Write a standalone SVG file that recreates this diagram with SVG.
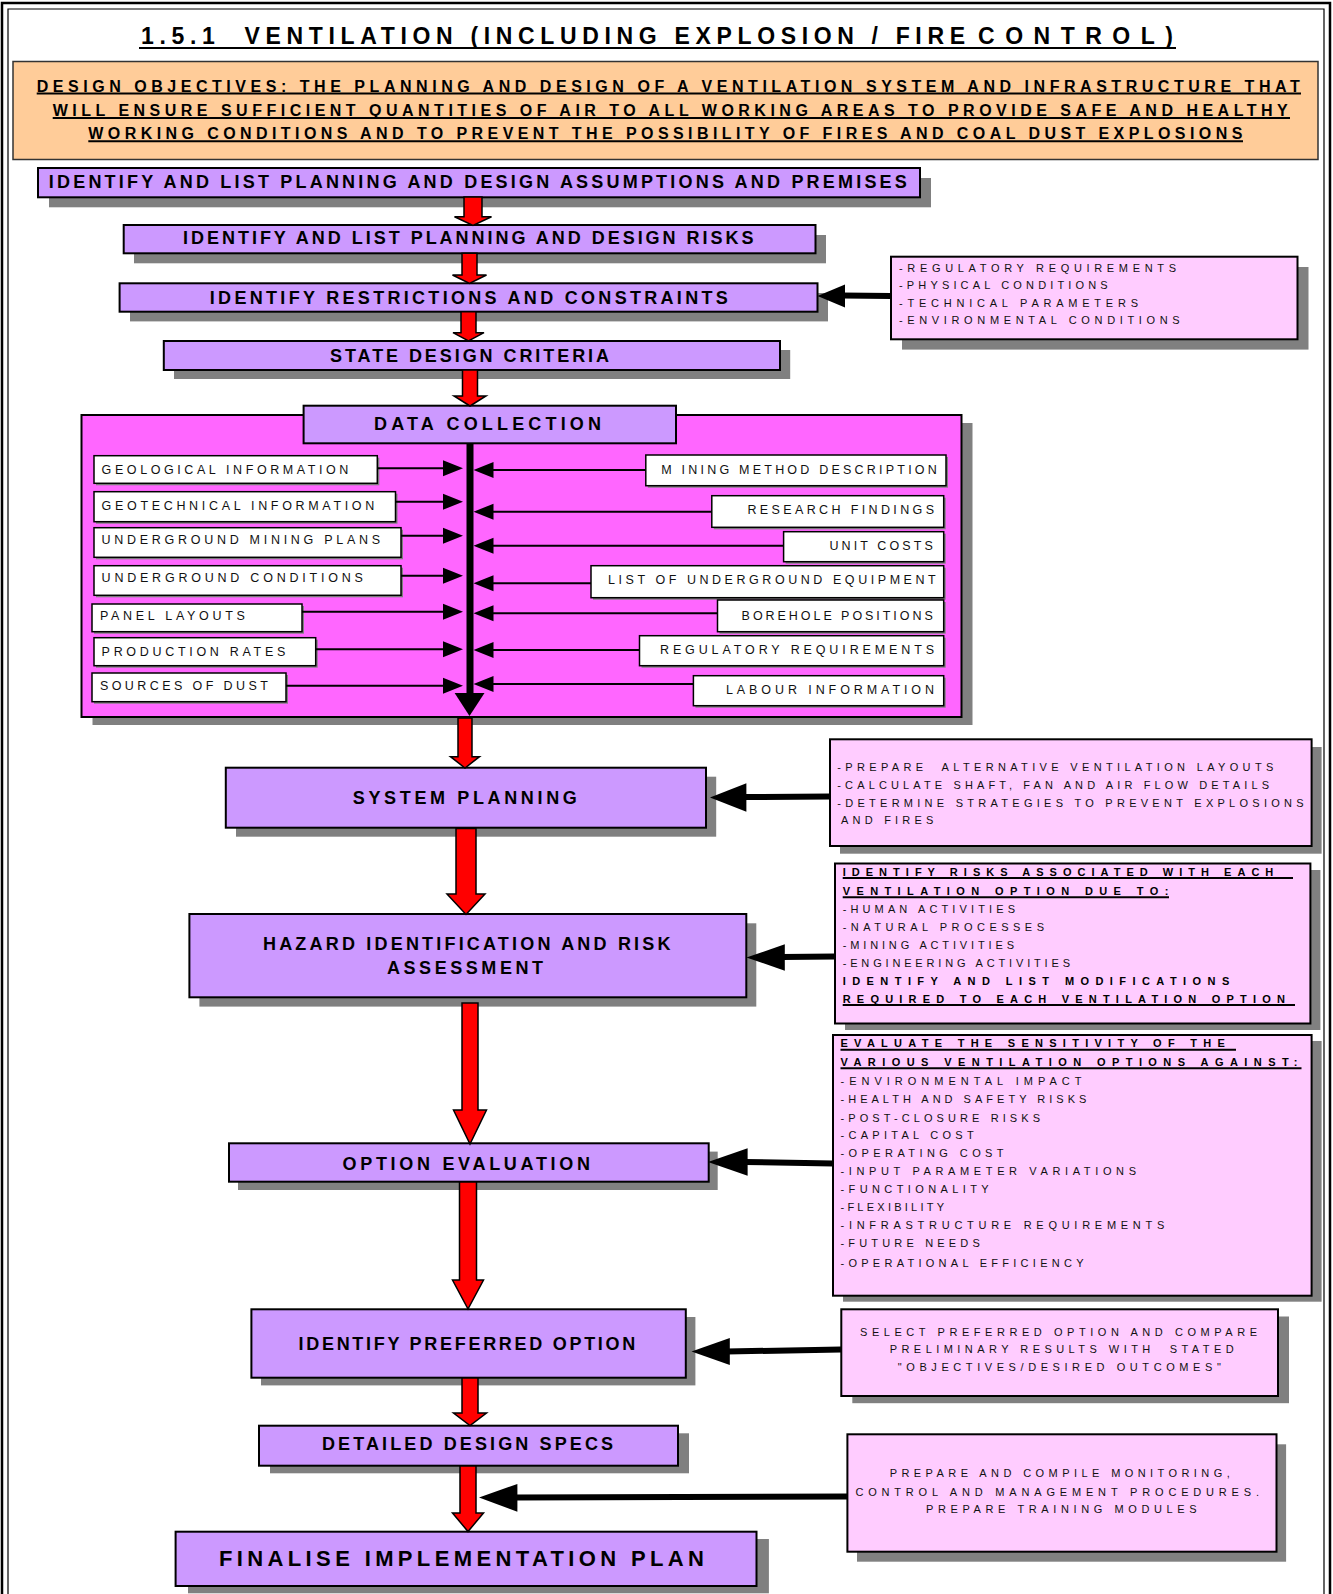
<svg xmlns="http://www.w3.org/2000/svg" width="1333" height="1594" viewBox="0 0 1333 1594">
<style>
text{font-family:"Liberation Sans",Arial,"Helvetica",sans-serif;}
.flow{fill:#CC99FF;stroke:#000;stroke-width:2}
.sh{fill:#808080}
.side{fill:#FFCCFF;stroke:#000;stroke-width:2}
.inp{fill:#fff;stroke:#000;stroke-width:1.5}
.ft{font-weight:bold;font-size:18px;fill:#000}
.st{font-size:11px;fill:#111}
.stb{font-size:11px;font-weight:bold;fill:#000}
.it{font-size:12.5px;fill:#111}
.ul{stroke:#000;stroke-width:2}
.red{fill:#FF0000;stroke:#000;stroke-width:1.5;stroke-linejoin:miter}
.bl{stroke:#000;stroke-width:6;fill:none}
.bt{stroke:#000;stroke-width:2;fill:none}
.ah{fill:#000}
</style>

<g id="frame" fill="none" stroke="#000">
  <path d="M2,1594 V3 H1330 V1594" stroke-width="2.5"/>
  <path d="M8,1594 V9 H1324 V1594" stroke-width="1.2"/>
</g>

<g id="title">
  <text x="141" y="44" font-size="23" font-weight="bold" textLength="824" lengthAdjust="spacing" xml:space="preserve">1.5.1  VENTILATION (INCLUDING EXPLOSION / FIRE</text>
  <text x="978" y="44" font-size="23" font-weight="bold" textLength="195" lengthAdjust="spacing">CONTROL)</text>
  <line class="ul" x1="139" y1="48" x2="1176" y2="48" stroke-width="2.5"/>
</g>

<g id="objectives">
  <rect x="13" y="61.5" width="1305" height="98" fill="#FFCC99" stroke="#333" stroke-width="1.5"/>
  <text x="36.7" y="91.5" font-size="16" font-weight="bold" textLength="1263" lengthAdjust="spacing">DESIGN OBJECTIVES: THE PLANNING AND DESIGN OF A VENTILATION SYSTEM AND INFRASTRUCTURE THAT</text>
  <line class="ul" x1="36.7" y1="93.5" x2="1301" y2="93.5"/>
  <text x="52.7" y="116" font-size="16" font-weight="bold" textLength="1235" lengthAdjust="spacing">WILL ENSURE SUFFICIENT QUANTITIES OF AIR TO ALL WORKING AREAS TO PROVIDE SAFE AND HEALTHY</text>
  <line class="ul" x1="52.7" y1="118" x2="1290" y2="118"/>
  <text x="88.3" y="139.3" font-size="16" font-weight="bold" textLength="1154" lengthAdjust="spacing">WORKING CONDITIONS AND TO PREVENT THE POSSIBILITY OF FIRES AND COAL DUST EXPLOSIONS</text>
  <line class="ul" x1="88.3" y1="141.3" x2="1243" y2="141.3"/>
</g>

<g id="assumptions">
  <rect class="sh" x="49" y="178" width="882" height="29.3"/>
  <rect class="flow" x="38" y="168" width="882" height="29.3"/>
  <text class="ft" x="48.8" y="188.3" textLength="858" lengthAdjust="spacing">IDENTIFY AND LIST PLANNING AND DESIGN ASSUMPTIONS AND PREMISES</text>
</g>

<g id="risks">
  <rect class="sh" x="134" y="235" width="692" height="28.3"/>
  <rect class="flow" x="123.7" y="225" width="691.8" height="28.3"/>
  <text class="ft" x="183" y="243.5" textLength="570.5" lengthAdjust="spacing">IDENTIFY AND LIST PLANNING AND DESIGN RISKS</text>
</g>

<g id="restrictions">
  <rect class="sh" x="130" y="293" width="698" height="28.4"/>
  <rect class="flow" x="119.6" y="283.3" width="697.9" height="28.4"/>
  <text class="ft" x="209.8" y="304" textLength="518" lengthAdjust="spacing">IDENTIFY RESTRICTIONS AND CONSTRAINTS</text>
</g>

<g id="restrictions-inputs">
  <rect class="sh" x="902" y="267" width="406.5" height="82.6"/>
  <rect class="side" x="891" y="256.7" width="406.5" height="82.6"/>
  <text class="st" x="899" y="272" textLength="277" lengthAdjust="spacing">-REGULATORY REQUIREMENTS</text>
  <text class="st" x="899" y="289" textLength="208.7" lengthAdjust="spacing">-PHYSICAL CONDITIONS</text>
  <text class="st" x="899" y="306.7" textLength="239" lengthAdjust="spacing">-TECHNICAL PARAMETERS</text>
  <text class="st" x="899" y="324.3" textLength="280.6" lengthAdjust="spacing">-ENVIRONMENTAL CONDITIONS</text>
</g>

<g id="criteria">
  <rect class="sh" x="174" y="350" width="616.2" height="29"/>
  <rect class="flow" x="163.8" y="341" width="616.2" height="29"/>
  <text class="ft" x="330" y="361.7" textLength="279" lengthAdjust="spacing">STATE DESIGN CRITERIA</text>
</g>

<g id="data-collection">
  <rect class="sh" x="92.5" y="423" width="880" height="302"/>
  <rect x="81.5" y="415" width="880" height="302" fill="#FF66FF" stroke="#000" stroke-width="2"/>
  <rect class="flow" x="303.6" y="405.7" width="372.4" height="37.6"/>
  <text class="ft" x="374" y="430" textLength="227" lengthAdjust="spacing">DATA COLLECTION</text>
</g>

<g id="dc-inputs">
  <g id="in-geological"><rect class="sh" x="96" y="457.7" width="283.3" height="27.6"/><rect class="inp" x="94" y="455.7" width="283.3" height="27.6"/><text class="it" x="101.6" y="474" textLength="246.8" lengthAdjust="spacing">GEOLOGICAL INFORMATION</text></g>
  <g id="in-geotechnical"><rect class="sh" x="96" y="493.7" width="301.5" height="30"/><rect class="inp" x="94" y="491.7" width="301.5" height="30"/><text class="it" x="101.6" y="510" textLength="272.7" lengthAdjust="spacing">GEOTECHNICAL INFORMATION</text></g>
  <g id="in-mining-plans"><rect class="sh" x="96" y="529.7" width="307" height="29.6"/><rect class="inp" x="94" y="527.7" width="307" height="29.6"/><text class="it" x="101.6" y="544" textLength="278.4" lengthAdjust="spacing">UNDERGROUND MINING PLANS</text></g>
  <g id="in-ug-conditions"><rect class="sh" x="96" y="567.7" width="307" height="29.6"/><rect class="inp" x="94" y="565.7" width="307" height="29.6"/><text class="it" x="101.6" y="582.3" textLength="261.2" lengthAdjust="spacing">UNDERGROUND CONDITIONS</text></g>
  <g id="in-panel"><rect class="sh" x="94" y="606" width="210" height="27.7"/><rect class="inp" x="92" y="604" width="210" height="27.7"/><text class="it" x="99.9" y="620" textLength="145" lengthAdjust="spacing">PANEL LAYOUTS</text></g>
  <g id="in-production"><rect class="sh" x="96" y="639.7" width="221.7" height="28"/><rect class="inp" x="94" y="637.7" width="221.7" height="28"/><text class="it" x="101.6" y="656" textLength="183.7" lengthAdjust="spacing">PRODUCTION RATES</text></g>
  <g id="in-dust"><rect class="sh" x="94" y="675" width="194" height="28.7"/><rect class="inp" x="92" y="673" width="194" height="28.7"/><text class="it" x="99.9" y="690" textLength="168" lengthAdjust="spacing">SOURCES OF DUST</text></g>

  <g id="in-mining-method"><rect class="sh" x="647.8" y="457" width="300.2" height="30.7"/><rect class="inp" x="645.8" y="455" width="300.2" height="30.7"/><text class="it" x="661.3" y="474" textLength="275.5" lengthAdjust="spacing">M INING METHOD DESCRIPTION</text></g>
  <g id="in-research"><rect class="sh" x="713.8" y="497.7" width="231.9" height="31.6"/><rect class="inp" x="711.8" y="495.7" width="231.9" height="31.6"/><text class="it" x="747.4" y="514" textLength="186.6" lengthAdjust="spacing">RESEARCH FINDINGS</text></g>
  <g id="in-unit-costs"><rect class="sh" x="785.6" y="533.7" width="160.1" height="30"/><rect class="inp" x="783.6" y="531.7" width="160.1" height="30"/><text class="it" x="829.5" y="550" textLength="103.3" lengthAdjust="spacing">UNIT COSTS</text></g>
  <g id="in-equipment"><rect class="sh" x="593" y="567.7" width="352.7" height="32"/><rect class="inp" x="591" y="565.7" width="352.7" height="32"/><text class="it" x="608" y="584.3" textLength="327.7" lengthAdjust="spacing">LIST OF UNDERGROUND EQUIPMENT</text></g>
  <g id="in-borehole"><rect class="sh" x="719.5" y="602" width="226.2" height="31.7"/><rect class="inp" x="717.5" y="600" width="226.2" height="31.7"/><text class="it" x="741.6" y="620" textLength="191.2" lengthAdjust="spacing">BOREHOLE POSITIONS</text></g>
  <g id="in-regulatory"><rect class="sh" x="641.5" y="637.7" width="304.2" height="30"/><rect class="inp" x="639.5" y="635.7" width="304.2" height="30"/><text class="it" x="660" y="654" textLength="274" lengthAdjust="spacing">REGULATORY REQUIREMENTS</text></g>
  <g id="in-labour"><rect class="sh" x="695.4" y="677.7" width="250.3" height="30"/><rect class="inp" x="693.4" y="675.7" width="250.3" height="30"/><text class="it" x="726" y="694" textLength="208" lengthAdjust="spacing">LABOUR INFORMATION</text></g>
</g>

<g id="system-planning">
  <rect class="sh" x="236" y="776.7" width="480.2" height="60"/>
  <rect class="flow" x="225.8" y="767.7" width="480.2" height="60"/>
  <text class="ft" x="352.8" y="804.3" textLength="224" lengthAdjust="spacing">SYSTEM PLANNING</text>
</g>

<g id="system-planning-inputs">
  <rect class="sh" x="840" y="747" width="481.6" height="106.7"/>
  <rect class="side" x="830" y="739.3" width="481.6" height="106.7"/>
  <text class="st" x="837.3" y="770.7" textLength="436" lengthAdjust="spacing" xml:space="preserve">-PREPARE  ALTERNATIVE VENTILATION LAYOUTS</text>
  <text class="st" x="837.3" y="788.7" textLength="431.7" lengthAdjust="spacing">-CALCULATE SHAFT, FAN AND AIR FLOW DETAILS</text>
  <text class="st" x="837.3" y="806.7" textLength="466.3" lengthAdjust="spacing">-DETERMINE STRATEGIES TO PREVENT EXPLOSIONS</text>
  <text class="st" x="841" y="824.3" textLength="92.4" lengthAdjust="spacing">AND FIRES</text>
</g>

<g id="hazard">
  <rect class="sh" x="199.4" y="923.3" width="556.9" height="83.3"/>
  <rect class="flow" x="189.4" y="914" width="556.9" height="83.3"/>
  <text class="ft" x="263" y="950" textLength="407.5" lengthAdjust="spacing">HAZARD IDENTIFICATION AND RISK</text>
  <text class="ft" x="387" y="974" textLength="156" lengthAdjust="spacing">ASSESSMENT</text>
</g>

<g id="hazard-inputs">
  <rect class="sh" x="845" y="870" width="475.4" height="160"/>
  <rect class="side" x="835" y="863.5" width="475.4" height="160"/>
  <text class="stb" x="842.7" y="875.7" textLength="430.6" lengthAdjust="spacing">IDENTIFY RISKS ASSOCIATED WITH EACH</text>
  <line class="ul" x1="842.7" y1="878" x2="1293" y2="878"/>
  <text class="stb" x="842.7" y="895" textLength="325.6" lengthAdjust="spacing">VENTILATION OPTION DUE TO:</text>
  <line class="ul" x1="842.7" y1="897.3" x2="1169" y2="897.3"/>
  <text class="st" x="842.7" y="913.3" textLength="172.3" lengthAdjust="spacing">-HUMAN ACTIVITIES</text>
  <text class="st" x="842.7" y="931" textLength="201.3" lengthAdjust="spacing">-NATURAL PROCESSES</text>
  <text class="st" x="842.7" y="949.3" textLength="171.3" lengthAdjust="spacing">-MINING ACTIVITIES</text>
  <text class="st" x="842.7" y="967.3" textLength="227.3" lengthAdjust="spacing">-ENGINEERING ACTIVITIES</text>
  <text class="stb" x="842.7" y="985" textLength="386.6" lengthAdjust="spacing">IDENTIFY AND LIST MODIFICATIONS</text>
  <text class="stb" x="842.7" y="1002.7" textLength="442.3" lengthAdjust="spacing">REQUIRED TO EACH VENTILATION OPTION</text>
  <line class="ul" x1="842.7" y1="1005" x2="1295" y2="1005"/>
</g>

<g id="option-evaluation">
  <rect class="sh" x="238" y="1151.6" width="479.7" height="38.4"/>
  <rect class="flow" x="229" y="1143.3" width="479.7" height="38.4"/>
  <text class="ft" x="342.5" y="1170" textLength="247.5" lengthAdjust="spacing">OPTION EVALUATION</text>
</g>

<g id="option-evaluation-inputs">
  <rect class="sh" x="843" y="1041" width="478.6" height="260.7"/>
  <rect class="side" x="833" y="1035" width="478.6" height="260.7"/>
  <text class="stb" x="840.5" y="1047.3" textLength="384.3" lengthAdjust="spacing">EVALUATE THE SENSITIVITY OF THE</text>
  <line class="ul" x1="840.5" y1="1049.8" x2="1236" y2="1049.8"/>
  <text class="stb" x="840.5" y="1066" textLength="457" lengthAdjust="spacing">VARIOUS VENTILATION OPTIONS AGAINST:</text>
  <line class="ul" x1="840.5" y1="1068.3" x2="1301.5" y2="1068.3"/>
  <text class="st" x="840.5" y="1085" textLength="241" lengthAdjust="spacing">-ENVIRONMENTAL IMPACT</text>
  <text class="st" x="840.5" y="1103.3" textLength="245.9" lengthAdjust="spacing">-HEALTH AND SAFETY RISKS</text>
  <text class="st" x="840.5" y="1121.7" textLength="199.5" lengthAdjust="spacing">-POST-CLOSURE RISKS</text>
  <text class="st" x="840.5" y="1139.3" textLength="133.2" lengthAdjust="spacing">-CAPITAL COST</text>
  <text class="st" x="840.5" y="1157.3" textLength="163.1" lengthAdjust="spacing">-OPERATING COST</text>
  <text class="st" x="840.5" y="1175.3" textLength="295.5" lengthAdjust="spacing">-INPUT PARAMETER VARIATIONS</text>
  <text class="st" x="840.5" y="1193.3" textLength="148.2" lengthAdjust="spacing">-FUNCTIONALITY</text>
  <text class="st" x="840.5" y="1211" textLength="103.5" lengthAdjust="spacing">-FLEXIBILITY</text>
  <text class="st" x="840.5" y="1229" textLength="323.8" lengthAdjust="spacing">-INFRASTRUCTURE REQUIREMENTS</text>
  <text class="st" x="840.5" y="1246.7" textLength="139.3" lengthAdjust="spacing">-FUTURE NEEDS</text>
  <text class="st" x="840.5" y="1266.7" textLength="243" lengthAdjust="spacing">-OPERATIONAL EFFICIENCY</text>
</g>

<g id="preferred-option">
  <rect class="sh" x="261" y="1317" width="434.4" height="68.4"/>
  <rect class="flow" x="251.4" y="1309.3" width="434.4" height="68.4"/>
  <text class="ft" x="298.5" y="1350" textLength="336.8" lengthAdjust="spacing">IDENTIFY PREFERRED OPTION</text>
</g>

<g id="preferred-option-inputs">
  <rect class="sh" x="852.3" y="1316.5" width="436.7" height="86.7"/>
  <rect class="side" x="841.3" y="1309.3" width="436.7" height="86.7"/>
  <text class="st" x="860" y="1336" textLength="397" lengthAdjust="spacing">SELECT PREFERRED OPTION AND COMPARE</text>
  <text class="st" x="889.7" y="1353.3" textLength="344" lengthAdjust="spacing" xml:space="preserve">PRELIMINARY RESULTS WITH  STATED</text>
  <text class="st" x="897.8" y="1371" textLength="323" lengthAdjust="spacing">"OBJECTIVES/DESIRED OUTCOMES"</text>
</g>

<g id="detailed-design">
  <rect class="sh" x="270" y="1433.3" width="419" height="40"/>
  <rect class="flow" x="259" y="1425.7" width="419" height="40"/>
  <text class="ft" x="322" y="1450" textLength="291" lengthAdjust="spacing">DETAILED DESIGN SPECS</text>
</g>

<g id="implementation-inputs">
  <rect class="sh" x="857" y="1444.3" width="429.1" height="117.4"/>
  <rect class="side" x="847.4" y="1434.3" width="429.1" height="117.4"/>
  <text class="st" x="889.7" y="1477.3" textLength="340" lengthAdjust="spacing">PREPARE AND COMPILE MONITORING,</text>
  <text class="st" x="855.4" y="1495.7" textLength="403.6" lengthAdjust="spacing">CONTROL AND MANAGEMENT PROCEDURES.</text>
  <text class="st" x="926" y="1513.3" textLength="270.6" lengthAdjust="spacing">PREPARE TRAINING MODULES</text>
</g>

<g id="finalise">
  <rect class="sh" x="188" y="1539" width="580.9" height="54.3"/>
  <rect class="flow" x="175.6" y="1531.7" width="580.9" height="54.3"/>
  <text class="ft" x="219" y="1565.7" style="font-size:22px" textLength="485" lengthAdjust="spacing">FINALISE IMPLEMENTATION PLAN</text>
</g>

<g id="connectors">
  <polygon class="red" points="464,197 482,197 482,216.7 491.5,216.7 473,225.5 454.5,216.7 464,216.7"/>
  <polygon class="red" points="462,253.3 477,253.3 477,275 486.5,275 469.5,283.5 452.5,275 462,275"/>
  <polygon class="red" points="461,311.7 476,311.7 476,332.7 484,332.7 468.5,341 453,332.7 461,332.7"/>
  <polygon class="red" points="462.5,370 477.5,370 477.5,396 486,396 470,406 454,396 462.5,396"/>
  <polygon class="red" points="458,718 472,718 472,756.7 479.5,756.7 465,768 450.5,756.7 458,756.7"/>
  <polygon class="red" points="456,828.5 476,828.5 476,894 485,894 466,914.5 447,894 456,894"/>
  <polygon class="red" points="462,1003 478,1003 478,1110 486.5,1110 470,1144 453.5,1110 462,1110"/>
  <polygon class="red" points="459.5,1182 476.5,1182 476.5,1280 483.5,1280 468,1309 452.5,1280 459.5,1280"/>
  <polygon class="red" points="462,1378 478,1378 478,1413 486.5,1413 470,1425.5 453.5,1413 462,1413"/>
  <polygon class="red" points="460,1466 476,1466 476,1513 483.5,1513 468,1531.5 452.5,1513 460,1513"/>

  <line x1="470" y1="443" x2="470" y2="700" stroke="#000" stroke-width="7"/>
  <polygon class="ah" points="454.6,693 484.5,693 469.5,716"/>

  <line class="bt" x1="377.3" y1="468.3" x2="445" y2="468.3"/><polygon class="ah" points="443,460.3 463,468.3 443,476.3"/>
  <line class="bt" x1="395.5" y1="501.7" x2="445" y2="501.7"/><polygon class="ah" points="443,493.7 463,501.7 443,509.7"/>
  <line class="bt" x1="401" y1="535.7" x2="445" y2="535.7"/><polygon class="ah" points="443,527.7 463,535.7 443,543.7"/>
  <line class="bt" x1="401" y1="575.7" x2="445" y2="575.7"/><polygon class="ah" points="443,567.7 463,575.7 443,583.7"/>
  <line class="bt" x1="302" y1="611.7" x2="445" y2="611.7"/><polygon class="ah" points="443,603.7 463,611.7 443,619.7"/>
  <line class="bt" x1="315.7" y1="649.3" x2="445" y2="649.3"/><polygon class="ah" points="443,641.3 463,649.3 443,657.3"/>
  <line class="bt" x1="286" y1="685.7" x2="445" y2="685.7"/><polygon class="ah" points="443,677.7 463,685.7 443,693.7"/>

  <line class="bt" x1="645.8" y1="470" x2="491" y2="470"/><polygon class="ah" points="493.5,462 473.5,470 493.5,478"/>
  <line class="bt" x1="711.8" y1="511.7" x2="491" y2="511.7"/><polygon class="ah" points="493.5,503.7 473.5,511.7 493.5,519.7"/>
  <line class="bt" x1="783.6" y1="545.7" x2="491" y2="545.7"/><polygon class="ah" points="493.5,537.7 473.5,545.7 493.5,553.7"/>
  <line class="bt" x1="591" y1="583.3" x2="491" y2="583.3"/><polygon class="ah" points="493.5,575.3 473.5,583.3 493.5,591.3"/>
  <line class="bt" x1="717.5" y1="613.3" x2="491" y2="613.3"/><polygon class="ah" points="493.5,605.3 473.5,613.3 493.5,621.3"/>
  <line class="bt" x1="639.5" y1="650" x2="491" y2="650"/><polygon class="ah" points="493.5,642 473.5,650 493.5,658"/>
  <line class="bt" x1="693.4" y1="684" x2="491" y2="684"/><polygon class="ah" points="493.5,676 473.5,684 493.5,692"/>

  <line class="bl" x1="891" y1="296" x2="842" y2="295.5" stroke-width="5"/>
  <polygon class="ah" points="817.5,296 845,284.5 845,307.5"/>
  <line class="bl" x1="830" y1="796.5" x2="744" y2="797"/>
  <polygon class="ah" points="710,797.5 746.4,783.3 746.4,811.7"/>
  <line class="bl" x1="835" y1="956.5" x2="782" y2="957"/>
  <polygon class="ah" points="746.4,957.5 784.8,944.3 784.8,970.7"/>
  <line class="bl" x1="833" y1="1163.5" x2="745" y2="1162"/>
  <polygon class="ah" points="708,1162 747.6,1148.3 747.6,1175.7"/>
  <line class="bl" x1="841" y1="1349.5" x2="727" y2="1351.5"/>
  <polygon class="ah" points="691.5,1351.5 729.8,1338 729.8,1365"/>
  <line class="bl" x1="847.4" y1="1496.5" x2="515" y2="1497.5" stroke-width="6.5"/>
  <polygon class="ah" points="479,1497.5 517.4,1484 517.4,1511.7"/>
</g>
</svg>
